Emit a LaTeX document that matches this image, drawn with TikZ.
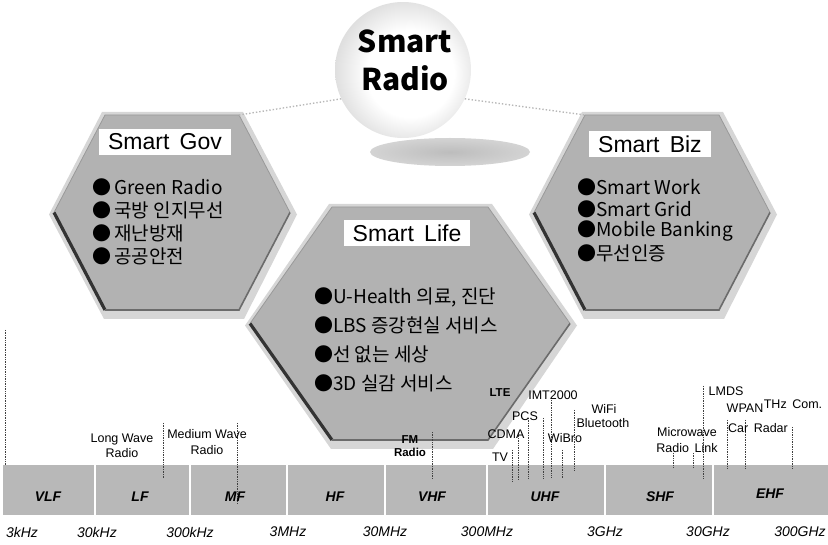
\documentclass[tikz,border=0pt]{standalone}
\usepackage{fontspec}
\setmainfont{Liberation Sans}
\newfontfamily\kr{Noto Sans CJK KR}
\usetikzlibrary{calc}
\pgfdeclareradialshading{sphereshade}{\pgfpoint{4bp}{-2bp}}{color(0bp)=(white); color(16bp)=(white); color(30bp)=(black!16); color(44bp)=(black!30); color(50bp)=(black!36)}
\pgfdeclareradialshading{shadowshade}{\pgfpointorigin}{color(0bp)=(black!26); color(28bp)=(black!16); color(50bp)=(white)}
\newcommand\hexshape[6]{% name, cx, ytop, ybot, halfwidth, tophalf
  \pgfmathsetmacro\hy{(#3+#4)/2}
  \coordinate (#1-tl) at ({#2-#6},{#3});
  \coordinate (#1-tr) at ({#2+#6},{#3});
  \coordinate (#1-r) at ({#2+#5},{\hy});
  \coordinate (#1-br) at ({#2+#6},{#4});
  \coordinate (#1-bl) at ({#2-#6},{#4});
  \coordinate (#1-l) at ({#2-#5},{\hy});
  \fill[hexrim] ({#2-#6-3},{#3-3}) -- ({#2+#6+4},{#3-3}) -- ({#2+#5+7},{\hy+2}) -- ({#2+#6+5},{#4+9}) -- ({#2-#6-1},{#4+9}) -- ({#2-#5-5},{\hy+2}) -- cycle;
  \fill[hexbody] (#1-tl) -- (#1-tr) -- (#1-r) -- (#1-br) -- (#1-bl) -- (#1-l) -- cycle;
  \draw[hexedgeup] (#1-l) -- (#1-tl) -- (#1-tr) -- (#1-r);
  \draw[hexedge] (#1-l) -- (#1-bl);
  \draw[hexedgelow] (#1-bl) -- (#1-br) -- (#1-r);
}
\begin{document}
\begin{tikzpicture}[x=1pt,y=-1pt,
  hexbody/.style={fill=black!30},
  hexrim/.style={fill=black!16},
  hexedge/.style={draw=black!80,line width=3.2},
  hexedgelow/.style={draw=black!58,line width=1.6},
  hexedgeup/.style={draw=black!40,line width=0.8},
  hextitle/.style={fill=white,inner xsep=9pt,inner ysep=5pt,font=\fontsize{23}{23}\selectfont},
  hexitem/.style={anchor=west,inner sep=0pt,font=\kr\fontsize{19}{19}\selectfont},
  bandname/.style={font=\bfseries\itshape\fontsize{14}{14}\selectfont},
  freq/.style={font=\itshape\fontsize{14}{14}\selectfont},
  app/.style={font=\fontsize{12.5}{15.5}\selectfont,align=center,inner sep=0pt},
  appb/.style={font=\bfseries\fontsize{11.5}{12.5}\selectfont,align=center,inner sep=0pt},
  lead/.style={densely dotted,black!75,line width=0.7},
  faint/.style={dotted,black!28,line width=1.4},
]
\useasboundingbox (0,0) rectangle (828,545);

% ---- Smart Radio sphere
\shade[shading=shadowshade] (450,152) ellipse (80 and 14);
\node[circle,minimum size=136,inner sep=0pt,shade,shading=sphereshade] (radio) at (403,70) {};
\node[font=\kr\bfseries\fontsize{30}{38}\selectfont,align=center] (radiotxt) at (405,60) {Smart\\Radio};

% ---- hexagons
\hexshape{gov}{172}{115}{310}{118}{67}
\hexshape{biz}{652}{115}{310}{118}{67}
\hexshape{life}{410}{207}{440}{160}{78}

\draw[faint] (radio.205) -- (gov-tr);
\draw[faint] (radio.335) -- (biz-tl);

% Smart Gov
\node[hextitle] (govtitle) at (165,142) {Smart\, Gov};
\node[hexitem] (gov1) at (92,187) {●\,Green Radio};
\node[hexitem] (gov2) at (92,210) {●\,국방 인지무선};
\node[hexitem] (gov3) at (92,233) {●\,재난방재};
\node[hexitem] (gov4) at (92,256) {●\,공공안전};

% Smart Biz
\node[hextitle] (biztitle) at (650,144) {Smart\, Biz};
\node[hexitem] (biz1) at (577,187) {●Smart Work};
\node[hexitem] (biz2) at (577,209) {●Smart Grid};
\node[hexitem] (biz3) at (577,231) {●Mobile Banking};
\node[hexitem] (biz4) at (577,253) {●무선인증};

% Smart Life
\node[hextitle] (lifetitle) at (407,233) {Smart\, Life};
\node[hexitem] (life1) at (314,297) {●U-Health 의료, 진단};
\node[hexitem] (life2) at (314,325) {●LBS 증강현실 서비스};
\node[hexitem] (life3) at (314,354) {●선 없는 세상};
\node[hexitem] (life4) at (314,383) {●3D 실감 서비스};

% ---- spectrum band
\fill[black!28] (3,465) rectangle (828,515);
\foreach \x in {95,190,287,385,487,605,713}
  \draw[white,line width=2.5] (\x,465) -- (\x,515);

% leader lines
\foreach \n/\x/\a/\b in {edge/5/330/465, lwsep/163/423/478, mfl/237/423/503,
    fml/432/432/478, tvl/512/450/482, cdmal/518/433/480, pcsl/528/418/478,
    ltel/543/418/478, imtl/551/400/478, wibrol/562/450/478, wifil/574/410/470,
    mwa/673/453/468, mwb/693/453/468, lmdsl/703/386/478, carl/727/420/468,
    wpanl/745/420/468, thzl/792/427/468}{
  \coordinate (\n-a) at (\x,\a);
  \coordinate (\n-b) at (\x,\b);
  \draw[lead] (\n-a) -- (\n-b);
}

% application labels
\node[app] (lw) at (122,446) {Long Wave\\Radio};
\node[app] (mw) at (207,442) {Medium Wave\\Radio};
\node[appb] (fm) at (410,446) {FM\\Radio};
\node[appb] (lte) at (500,393) {LTE};
\node[app] (imt) at (553,395) {IMT2000};
\node[app] (pcs) at (525,416) {PCS};
\node[app] (cdma) at (506,434) {CDMA};
\node[app] (tv) at (500,457) {TV};
\node[app] (wibro) at (565,438) {WiBro};
\node[app] (wifi) at (604,409) {WiFi};
\node[app] (bt) at (603,423) {Bluetooth};
\node[app] (mwl) at (687,440) {Microwave\\Radio\, Link};
\node[app] (lmds) at (726,391) {LMDS};
\node[app] (wpan) at (745,408) {WPAN};
\node[app] (thz) at (793,404) {THz\, Com.};
\node[app] (car) at (758,428) {Car\, Radar};

% band names
\node[bandname] (vlf) at (48,497) {VLF};
\node[bandname] (lf) at (140,497) {LF};
\node[bandname] (mf) at (235,497) {MF};
\node[bandname] (hf) at (335,497) {HF};
\node[bandname] (vhf) at (432,497) {VHF};
\node[bandname] (uhf) at (545,497) {UHF};
\node[bandname] (shf) at (660,497) {SHF};
\node[bandname] (ehf) at (770,494) {EHF};

% frequencies
\node[freq] (f1) at (22,532) {3kHz};
\node[freq] (f2) at (97,532) {30kHz};
\node[freq] (f3) at (190,532) {300kHz};
\node[freq] (f4) at (288,532) {3MHz};
\node[freq] (f5) at (385,532) {30MHz};
\node[freq] (f6) at (487,532) {300MHz};
\node[freq] (f7) at (605,532) {3GHz};
\node[freq] (f8) at (708,532) {30GHz};
\node[freq] (f9) at (800,532) {300GHz};
\end{tikzpicture}
\end{document}
